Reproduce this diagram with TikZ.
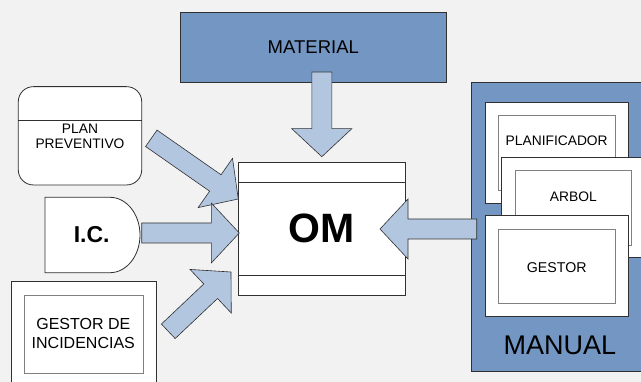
\documentclass[tikz,border=0pt]{standalone}
\usepackage{fontspec}
\setmainfont{Liberation Sans}
\usetikzlibrary{calc}
\definecolor{bg}{HTML}{F2F2F2}
\definecolor{darkblue}{HTML}{7396C3}
\definecolor{lightblue}{HTML}{B3C6E0}
\definecolor{edge}{HTML}{303030}
\tikzset{
 box/.style={draw=edge, line width=0.8pt, inner sep=0pt, fill=white},
 inbox/.style={draw=gray, line width=0.8pt, inner sep=0pt, fill=white},
 bluebox/.style={draw=edge, line width=0.8pt, inner sep=0pt, fill=darkblue},
 fat/.style={draw=edge, line width=0.6pt, fill=lightblue, line join=miter},
 lbl/.style={inner sep=0pt, align=center, text=black},
}
\newcommand\fatarrow[2]{%
 \coordinate (fh) at ($(#2)!28pt!(#1)$);
 \draw[fat] ($(#1)!10pt!90:(#2)$) -- ($(fh)!10pt!90:(#2)$) -- ($(fh)!30pt!90:(#2)$)
   -- (#2) -- ($(fh)!30pt!-90:(#2)$) -- ($(fh)!10pt!-90:(#2)$) -- ($(#1)!10pt!-90:(#2)$) -- cycle;}
\begin{document}
\begin{tikzpicture}[x=1pt,y=-1pt]
\fill[bg] (0,0) rectangle (641,382);
\useasboundingbox (0,0) rectangle (641,382);
% MATERIAL
\node[bluebox, minimum width=266.7pt, minimum height=69.3pt] (material) at (313.3,47.3) {};
\node[lbl, font=\fontsize{18.5}{22}\selectfont] (materialtxt) at (313.3,46.7) {MATERIAL};
% OM
\node[box, minimum width=166.7pt, minimum height=132.7pt] (om) at (321.7,228.7) {};
\draw[edge, line width=0.8pt] ($(om.north west)+(0,20)$) -- ($(om.north east)+(0,20)$);
\draw[edge, line width=0.8pt] ($(om.south west)+(0,-19.7)$) -- ($(om.south east)+(0,-19.7)$);
\node[lbl, font=\fontsize{41}{45}\bfseries\selectfont] (omtxt) at (321.7,228) {OM};
% PLAN PREVENTIVO
\node[box, rounded corners=15pt, minimum width=123.4pt, minimum height=98.3pt] (plan) at (80,135.8) {};
\draw[edge, line width=0.8pt] (plan.west |- 0,120) -- (plan.east |- 0,120);
\node[lbl, font=\fontsize{13.8}{15}\selectfont] (plantxt) at (80,136) {PLAN\\PREVENTIVO};
% I.C.
\draw[box] (45,197.3) -- (110,197.3) arc[start angle=90, end angle=-90, x radius=30pt, y radius=37.7pt] -- (45,272.7) -- cycle;
\node[lbl, font=\fontsize{23}{26}\bfseries\selectfont] (ic) at (91.7,235) {I.C.};
% GESTOR DE INCIDENCIAS
\node[box, minimum width=144.3pt, minimum height=109pt] (gdiout) at (83.85,335.5) {};
\node[inbox, minimum width=119pt, minimum height=78.3pt] (gdiin) at (83.8,334.15) {};
\node[lbl, font=\fontsize{16}{19.3}\selectfont] (gditxt) at (83.3,333.7) {GESTOR DE\\INCIDENCIAS};
% MANUAL
\node[bluebox, minimum width=173.3pt, minimum height=288.7pt] (manual) at (558.35,226.65) {};
\node[box, minimum width=143.3pt, minimum height=101pt] (planout) at (556.65,152.8) {};
\node[inbox, minimum width=116.7pt, minimum height=74.3pt] (planin) at (556.65,152.85) {};
\node[lbl, font=\fontsize{13.8}{16}\selectfont] (planiftxt) at (556.7,141) {PLANIFICADOR};
\node[box, minimum width=158.3pt, minimum height=100.4pt] (arbolout) at (580.85,207.5) {};
\node[inbox, minimum width=116.7pt, minimum height=74.3pt] (arbolin) at (573.35,207.85) {};
\node[lbl, font=\fontsize{13.8}{16}\selectfont] (arboltxt) at (573.3,196.7) {ARBOL};
\node[box, minimum width=143.3pt, minimum height=101pt] (gestorout) at (556.65,266.2) {};
\node[inbox, minimum width=116.7pt, minimum height=74.3pt] (gestorin) at (556.65,266.15) {};
\node[lbl, font=\fontsize{14.2}{16}\selectfont] (gestortxt) at (556.7,267.3) {GESTOR};
\node[lbl, font=\fontsize{27}{30}\selectfont] (manualtxt) at (560,345) {MANUAL};
% arrows
\coordinate (a1s) at (151.3,138.3); \coordinate (a1t) at (238.3,199);
\coordinate (a2s) at (141.7,233);   \coordinate (a2t) at (239.3,233);
\coordinate (a3s) at (168.3,331.3); \coordinate (a3t) at (231,272);
\coordinate (a4s) at (321.8,72);    \coordinate (a4t) at (321.8,156.7);
\coordinate (a5s) at (476.7,229);   \coordinate (a5t) at (380,229);
\fatarrow{a1s}{a1t}
\fatarrow{a2s}{a2t}
\fatarrow{a3s}{a3t}
\fatarrow{a4s}{a4t}
\fatarrow{a5s}{a5t}
\end{tikzpicture}
\end{document}
